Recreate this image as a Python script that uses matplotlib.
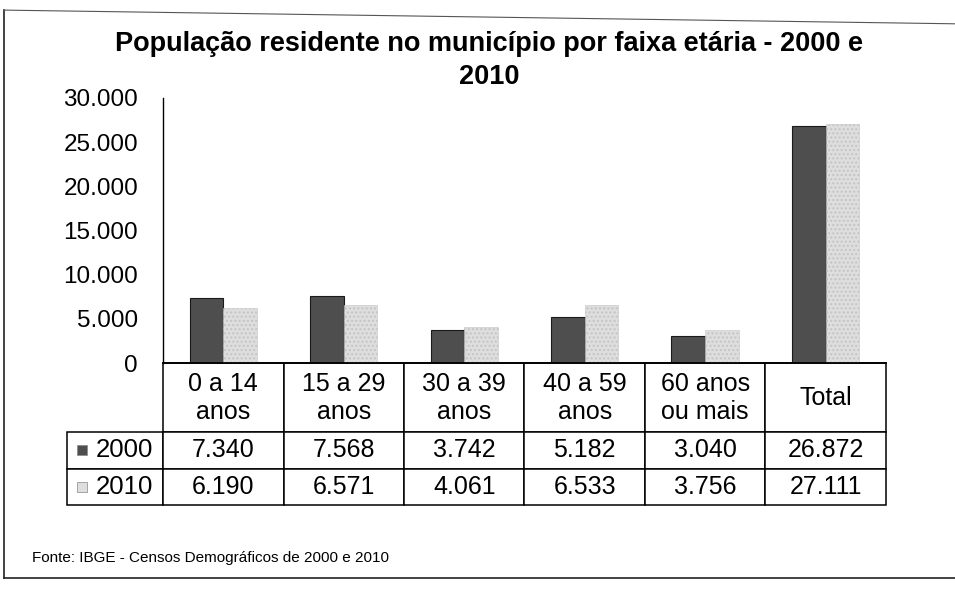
import matplotlib
matplotlib.use("Agg")
import matplotlib.pyplot as plt
from matplotlib.patches import Rectangle
from matplotlib.lines import Line2D
from matplotlib.ticker import FuncFormatter
import numpy as np

plt.rcParams['font.family'] = ['Liberation Sans', 'DejaVu Sans']

# data
categories = ['0 a 14\nanos', '15 a 29\nanos', '30 a 39\nanos',
              '40 a 59\nanos', '60 anos\nou mais', 'Total']
years = ['2000', '2010']
pop_2000 = [7340, 7568, 3742, 5182, 3040, 26872]
pop_2010 = [6190, 6571, 4061, 6533, 3756, 27111]
y_ticks = [0, 5000, 10000, 15000, 20000, 25000, 30000]

color_2000 = '#4e4e4e'
color_2010 = '#dedede'


def fmt_thousands(v, pos=None):
    return f"{int(v):,}".replace(',', '.')


fig = plt.figure(figsize=(9.55, 5.95), dpi=100)
ax = fig.add_axes([0.1707, 0.3899, 0.757, 0.4454])

x = np.arange(len(categories))
w = 0.28
ax.bar(x - 0.14, pop_2000, width=w, color=color_2000, edgecolor='#1a1a1a', linewidth=0.8)
ax.bar(x + 0.14, pop_2010, width=w, color=color_2010, edgecolor='#c4c4c4', linewidth=0.4,
       hatch='....')

ax.set_xlim(-0.5, len(categories) - 0.5)
ax.set_ylim(0, 30000)
ax.set_yticks(y_ticks)
ax.yaxis.set_major_formatter(FuncFormatter(fmt_thousands))
ax.tick_params(axis='y', length=0, pad=18, labelsize=17.5)
ax.set_xticks([])
for s in ['top', 'right']:
    ax.spines[s].set_visible(False)
ax.spines['left'].set_linewidth(1.0)
ax.spines['bottom'].set_linewidth(1.3)

# data table under the bars
cell_text = [[y] + [fmt_thousands(v) for v in vals]
             for y, vals in zip(years, [pop_2000, pop_2010])]
col_labels = [''] + categories
first_w = 96 / 723
tbl = ax.table(cellText=cell_text, colLabels=col_labels,
               colWidths=[first_w] + [1 / len(categories)] * len(categories),
               cellLoc='center', bbox=[-first_w, -0.536, 1 + first_w, 0.536])
tbl.auto_set_font_size(False)
for (r, c), cell in tbl.get_celld().items():
    cell.set_fontsize(18)
    cell.set_linewidth(1.1)
    if r == 0:
        cell.set_height(cell.get_height() * 1.9)
    if r == 0 and c == 0:
        cell.visible_edges = ''
    if r > 0 and c == 0:
        cell.get_text().set_ha('right')
        cell.PAD = 0.1
        cell.get_text().set_fontsize(18.5)

# legend keys in the row labels
key_colors = [color_2000, color_2010]
key_y = [-0.328, -0.468]
for kc, ky in zip(key_colors, key_y):
    ax.add_patch(Rectangle((-0.119, ky - 0.019), 0.0138, 0.038, transform=ax.transAxes,
                           facecolor=kc, edgecolor='#888888', linewidth=0.5,
                           clip_on=False, zorder=5))

fig.text(0.512, 0.8975, 'População residente no município por faixa etária - 2000 e\n2010',
         ha='center', va='center', fontsize=19.5, fontweight='bold', linespacing=1.35)
fig.text(0.034, 0.063, 'Fonte: IBGE - Censos Demográficos de 2000 e 2010', fontsize=11,
         va='center')

# outer frame of the scanned page
fig.add_artist(Line2D((0.004, 0.004), (0.029, 0.983), transform=fig.transFigure,
                      color='#222222', linewidth=1.2))
fig.add_artist(Line2D((0.004, 1.0), (0.029, 0.029), transform=fig.transFigure,
                      color='#222222', linewidth=1.2))
fig.add_artist(Line2D((0.004, 1.0), (0.983, 0.96), transform=fig.transFigure,
                      color='#555555', linewidth=0.8))

fig.savefig('out.png', dpi=100)
